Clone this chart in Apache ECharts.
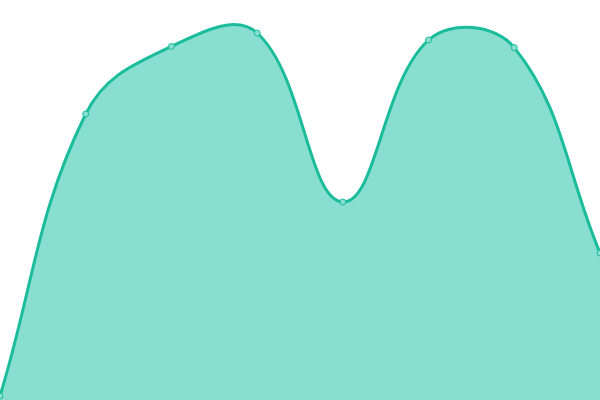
<!DOCTYPE html>
<html>
<head>
<meta charset="utf-8">
<script src="https://cdn.jsdelivr.net/npm/echarts@6/dist/echarts.min.js"></script>
<style>
  html, body { margin: 0; padding: 0; background: #fff; }
  #main { width: 600px; height: 400px; }
</style>
</head>
<body>
<div id="main"></div>
<script>
const categories = ['A', 'B', 'C', 'D', 'E', 'F', 'G', 'H'];
const values = [1, 71.5, 88.4, 91.75, 49.5, 90, 88.1, 36.75];

const lineColor = '#1abc9c';
const fillColor = '#88dfcf';
const tension = 0.4;

// spline with overshoot (echarts' own smoothing clamps to the data range)
function splinePath(pts, bottom) {
  const cps = pts.map((cur, i) => {
    const prev = pts[i - 1] || cur;
    const next = pts[i + 1] || cur;
    const d01 = Math.hypot(cur[0] - prev[0], cur[1] - prev[1]);
    const d12 = Math.hypot(next[0] - cur[0], next[1] - cur[1]);
    let s01 = d01 / (d01 + d12);
    let s12 = d12 / (d01 + d12);
    if (isNaN(s01)) s01 = 0;
    if (isNaN(s12)) s12 = 0;
    const fa = tension * s01;
    const fb = tension * s12;
    return {
      prev: [cur[0] - fa * (next[0] - prev[0]), cur[1] - fa * (next[1] - prev[1])],
      next: [cur[0] + fb * (next[0] - prev[0]), cur[1] + fb * (next[1] - prev[1])]
    };
  });
  let d = 'M' + pts[0][0] + ' ' + pts[0][1];
  for (let i = 1; i < pts.length; i++) {
    const a = cps[i - 1].next, b = cps[i].prev, p = pts[i];
    d += ' C' + a[0] + ' ' + a[1] + ' ' + b[0] + ' ' + b[1] + ' ' + p[0] + ' ' + p[1];
  }
  if (bottom == null) return d;
  const last = pts[pts.length - 1];
  return d + ' L' + last[0] + ' ' + bottom + ' L' + pts[0][0] + ' ' + bottom + ' Z';
}

const chartDom = document.getElementById('main');
const myChart = echarts.init(chartDom);
const option = {
  animation: false,
  grid: { left: 0, right: 0, top: 0, bottom: 0 },
  xAxis: {
    type: 'category',
    boundaryGap: false,
    data: categories,
    show: false
  },
  yAxis: {
    type: 'value',
    min: 0,
    max: 100,
    show: false
  },
  series: [
    {
      type: 'custom',
      data: values,
      z: 1,
      renderItem: (params, api) => {
        if (params.dataIndex !== 0) return null;
        const pts = values.map((v, i) => api.coord([i, v]));
        const bottom = api.coord([0, 0])[1];
        return {
          type: 'group',
          children: [
            {
              type: 'path',
              shape: { pathData: splinePath(pts, bottom) },
              style: { fill: fillColor, stroke: null }
            },
            {
              type: 'path',
              shape: { pathData: splinePath(pts) },
              style: { fill: null, stroke: lineColor, lineWidth: 3 }
            }
          ]
        };
      }
    },
    {
      type: 'line',
      data: values,
      z: 5,
      symbol: 'circle',
      symbolSize: 6,
      lineStyle: { width: 0, opacity: 0 },
      itemStyle: { color: fillColor, borderColor: lineColor, borderWidth: 1 }
    }
  ]
};
option && myChart.setOption(option);
</script>
</body>
</html>
